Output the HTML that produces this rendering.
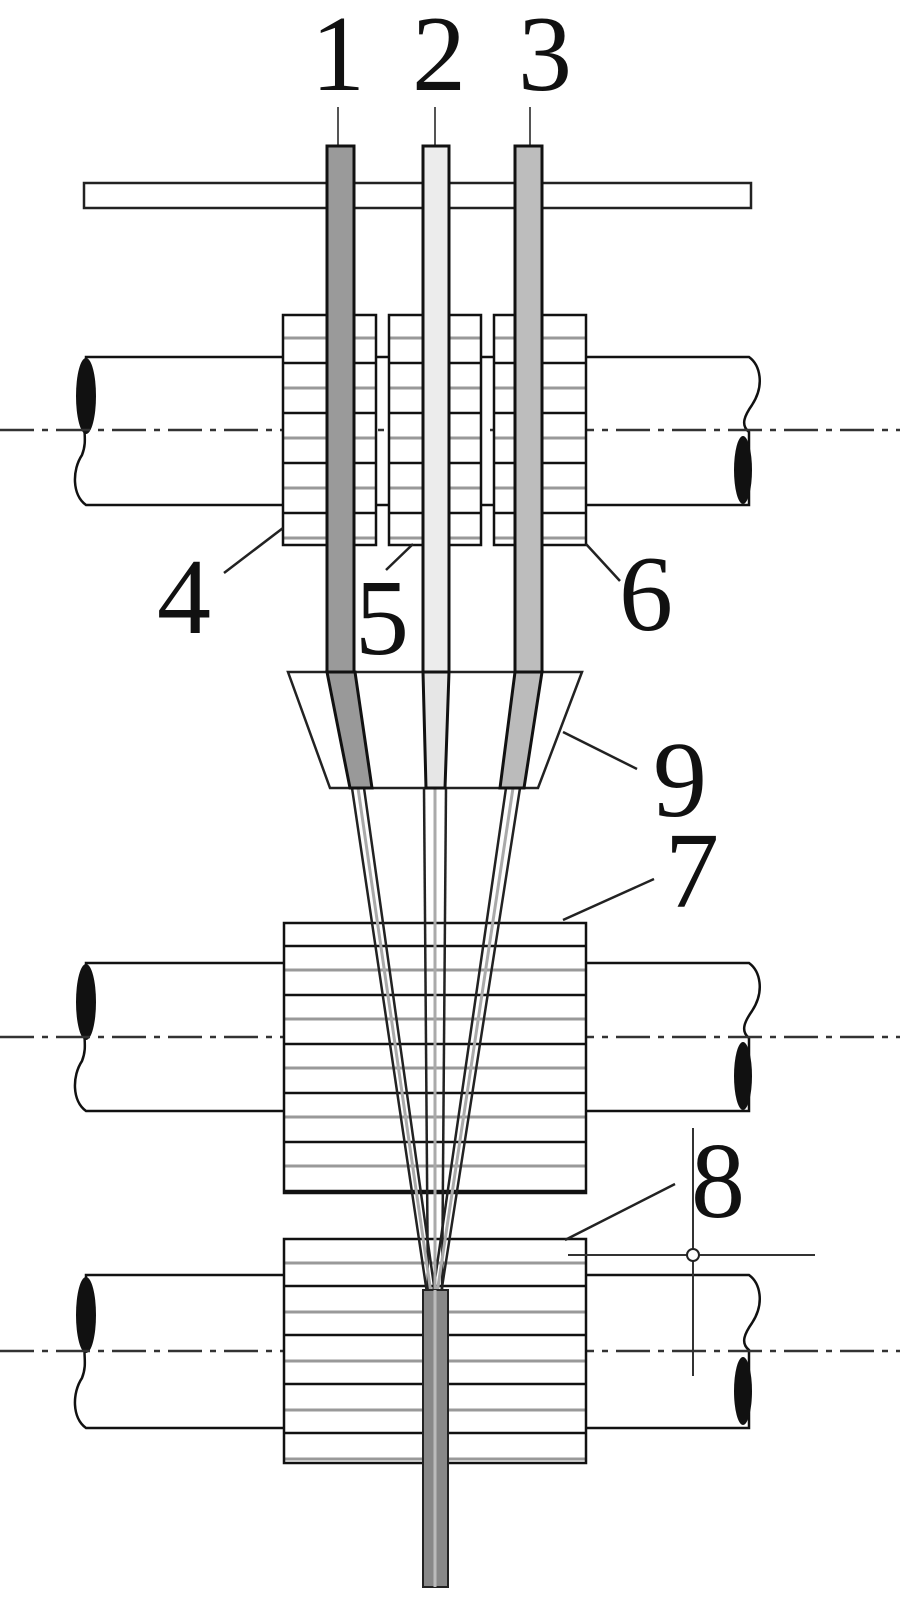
<!DOCTYPE html>
<html><head><meta charset="utf-8"><style>
html,body{margin:0;padding:0;background:#fff;width:900px;height:1624px;overflow:hidden}
svg text{font-family:"Liberation Serif",serif;font-size:108px;fill:#111}
</style></head><body>
<svg width="900" height="1624" viewBox="0 0 900 1624" xmlns="http://www.w3.org/2000/svg">
<defs>
<pattern id="st1" x="0" y="315" width="10" height="50" patternUnits="userSpaceOnUse">
<rect width="10" height="50" fill="#fff"/>
<line x1="0" y1="23" x2="10" y2="23" stroke="#999" stroke-width="3"/>
<line x1="0" y1="48" x2="10" y2="48" stroke="#111" stroke-width="2.5"/>
</pattern>
<pattern id="st2" x="0" y="923" width="10" height="49" patternUnits="userSpaceOnUse">
<rect width="10" height="49" fill="#fff"/>
<line x1="0" y1="23" x2="10" y2="23" stroke="#111" stroke-width="2.5"/>
<line x1="0" y1="47" x2="10" y2="47" stroke="#999" stroke-width="3"/>
</pattern>
<pattern id="st3" x="0" y="1239" width="10" height="49" patternUnits="userSpaceOnUse">
<rect width="10" height="49" fill="#fff"/>
<line x1="0" y1="24" x2="10" y2="24" stroke="#999" stroke-width="3"/>
<line x1="0" y1="47" x2="10" y2="47" stroke="#111" stroke-width="2.5"/>
</pattern>
</defs>

<!-- labels -->
<text x="338" y="90" text-anchor="middle">1</text>
<text x="439" y="90" text-anchor="middle">2</text>
<text x="545" y="90" text-anchor="middle">3</text>
<text x="184" y="633" text-anchor="middle">4</text>
<text x="382" y="654" text-anchor="middle">5</text>
<text x="646" y="630" text-anchor="middle">6</text>
<text x="680" y="816" text-anchor="middle">9</text>
<text x="692" y="907" text-anchor="middle">7</text>
<text x="718" y="1217" text-anchor="middle">8</text>

<g stroke="#555" stroke-width="2">
<line x1="338" y1="107" x2="338" y2="146"/>
<line x1="435" y1="107" x2="435" y2="146"/>
<line x1="530" y1="107" x2="530" y2="146"/>
</g>

<!-- shafts -->
<g fill="#fff" stroke="#111" stroke-width="2.5">
<path d="M86 357 H749 C760 365 765 385 752 405 C745 415 740 425 749 432 V505 H86 C72 495 72 470 82 455 C88 440 82 430 86 420 Z"/>
<path d="M86 963 H749 C760 971 765 991 752 1011 C745 1021 740 1031 749 1038 V1111 H86 C72 1101 72 1076 82 1061 C88 1046 82 1036 86 1026 Z"/>
<path d="M86 1275 H749 C760 1283 765 1303 752 1323 C745 1333 740 1343 749 1350 V1428 H86 C72 1418 72 1393 82 1378 C88 1363 82 1353 86 1343 Z"/>
</g>
<g fill="#111">
<ellipse cx="86" cy="396" rx="10" ry="38"/>
<ellipse cx="743" cy="470" rx="9" ry="34"/>
<ellipse cx="86" cy="1002" rx="10" ry="38"/>
<ellipse cx="743" cy="1076" rx="9" ry="34"/>
<ellipse cx="86" cy="1315" rx="10" ry="38"/>
<ellipse cx="743" cy="1391" rx="9" ry="34"/>
</g>
<g stroke="#333" stroke-width="2.5" stroke-dasharray="34,8,6,8">
<line x1="0" y1="430" x2="900" y2="430"/>
<line x1="0" y1="1037" x2="900" y2="1037"/>
<line x1="0" y1="1351" x2="900" y2="1351"/>
</g>

<!-- upper rolls -->
<g stroke="#111" stroke-width="2.5" fill="url(#st1)">
<rect x="283" y="315" width="93" height="230"/>
<rect x="389" y="315" width="92" height="230"/>
<rect x="494" y="315" width="92" height="230"/>
</g>

<!-- bar -->
<rect x="84" y="183" width="667" height="25" fill="#fff" stroke="#222" stroke-width="2.5"/>

<!-- rods -->
<g stroke="#111" stroke-width="3">
<rect x="327" y="146" width="27" height="526" fill="#9a9a9a"/>
<rect x="423" y="146" width="26" height="526" fill="#ececec"/>
<rect x="515" y="146" width="27" height="526" fill="#bdbdbd"/>
</g>

<!-- lower rolls -->
<g stroke="#111" stroke-width="2.5">
<rect x="284" y="923" width="302" height="270" fill="url(#st2)"/>
<rect x="284" y="1239" width="302" height="224" fill="url(#st3)"/>
</g>

<!-- fibers -->
<g fill="none" stroke="#222" stroke-width="2.5">
<path d="M352 788 L428 1300"/><path d="M364 788 L436 1300"/>
<path d="M424 788 L428 1300"/><path d="M446 788 L442 1300"/>
<path d="M506 788 L432 1300"/><path d="M520 788 L440 1300"/>
</g>
<g fill="none" stroke="#aaa" stroke-width="3">
<path d="M358 788 L432 1300"/><path d="M435 788 L435 1300"/><path d="M513 788 L436 1300"/>
</g>
<rect x="423" y="1290" width="25" height="297" fill="#888" stroke="#222" stroke-width="2"/>
<line x1="435" y1="1290" x2="435" y2="1587" stroke="#bbb" stroke-width="3"/>

<!-- trapezoid 9 -->
<path d="M288 672 H582 L538 788 H330 Z" fill="#fff" stroke="#222" stroke-width="2.5"/>
<g stroke="#111" stroke-width="3" fill="#999">
<path d="M327 672 L355 672 L372 788 L350 788 Z"/>
<path d="M515 672 L542 672 L524 788 L500 788 Z" fill="#bbb"/>
<path d="M423 672 L449 672 L445 788 L426 788 Z" fill="#e6e6e6"/>
</g>

<!-- leaders -->
<g stroke="#222" stroke-width="2.5">
<line x1="224" y1="573" x2="283" y2="528"/>
<line x1="386" y1="570" x2="413" y2="544"/>
<line x1="586" y1="544" x2="620" y2="581"/>
<line x1="563" y1="732" x2="637" y2="769"/>
<line x1="563" y1="920" x2="654" y2="879"/>
<line x1="565" y1="1240" x2="675" y2="1184"/>
</g>
<g stroke="#333" stroke-width="2">
<line x1="693" y1="1128" x2="693" y2="1376"/>
<line x1="568" y1="1255" x2="815" y2="1255"/>
</g>
<circle cx="693" cy="1255" r="6" fill="#fff" stroke="#222" stroke-width="2"/>
</svg>
</body></html>
